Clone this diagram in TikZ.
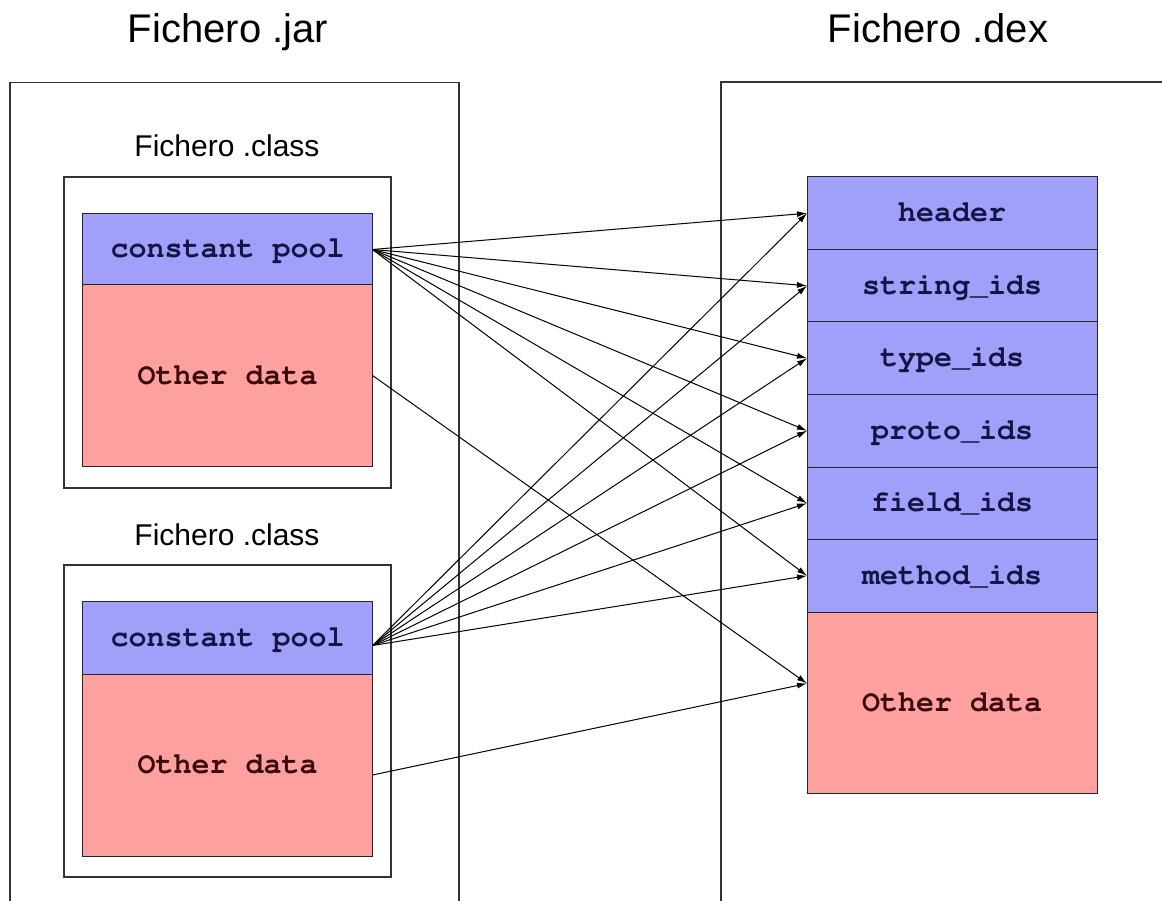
\documentclass[tikz,border=0pt]{standalone}
\usepackage{fontspec}
\setmainfont{Liberation Sans}
\newcommand{\courb}{\fontencoding{T1}\fontfamily{pcr}\fontseries{b}\selectfont}
\usetikzlibrary{arrows.meta}
\definecolor{poolblue}{RGB}{160,160,250}
\definecolor{datared}{RGB}{255,160,160}
\definecolor{navy}{RGB}{20,20,70}
\definecolor{darkred}{RGB}{60,10,10}
\begin{document}
\begin{tikzpicture}[x=1pt,y=-1pt,
  frame/.style={draw=black!80, line width=1.3pt, inner sep=0pt, outer sep=0pt},
  cell/.style={draw=black!85, line width=1pt, inner sep=0pt, outer sep=0pt, minimum width=290pt, anchor=north west, font=\courb\fontsize{30}{30}\selectfont, text height=17pt, text depth=0pt},
  bluecell/.style={cell, fill=poolblue, text=navy},
  redcell/.style={cell, fill=datared, text=darkred},
  title/.style={font=\fontsize{40}{40}\selectfont, anchor=base, inner sep=0pt},
  sub/.style={font=\fontsize{30}{30}\selectfont, anchor=base, inner sep=0pt},
  link/.style={line width=1pt, -{Latex[length=10pt,width=6pt]}}
]
\useasboundingbox (0,0) rectangle (1162,901);
\fill[white] (0,0) rectangle (1162,901);
\clip (0,0) rectangle (1162,901);

% titles
\node[title] (jart) at (228,43) {Fichero .jar};
\node[title] (dext) at (938,43) {Fichero .dex};

% outer frames
\node[frame, minimum width=449pt, minimum height=840pt, anchor=north west] (jar) at (10,82.5) {};
\node[frame, line width=2pt, minimum width=460pt, minimum height=840pt, anchor=north west] (dex) at (721,82.5) {};

% class file 1
\node[sub] (cls1lab) at (227,157) {Fichero .class};
\node[frame, minimum width=327pt, minimum height=311pt, anchor=north west] (cls1) at (64,177) {};
\node[bluecell, minimum height=71pt] (cp1) at (82.5,214) {constant pool};
\node[redcell, minimum height=181pt] (od1) at (82.5,285) {Other data};

% class file 2
\node[sub] (cls2lab) at (227,545) {Fichero .class};
\node[frame, minimum width=327pt, minimum height=312pt, anchor=north west] (cls2) at (64,565) {};
\node[bluecell, minimum height=73pt] (cp2) at (82.5,601) {constant pool};
\node[redcell, minimum height=182pt] (od2) at (82.5,674) {Other data};

% dex stack
\node[bluecell, minimum height=72.5pt] (hdr) at (807,177) {header};
\node[bluecell, minimum height=72.5pt] (str) at (807,249.5) {string\_ids};
\node[bluecell, minimum height=72.5pt] (typ) at (807,322) {type\_ids};
\node[bluecell, minimum height=72.5pt] (pro) at (807,394.5) {proto\_ids};
\node[bluecell, minimum height=72.5pt] (fld) at (807,467) {field\_ids};
\node[bluecell, minimum height=72.5pt] (met) at (807,539.5) {method\_ids};
\node[redcell, minimum height=181pt] (dod) at (807,612) {Other data};

% connectors
\coordinate (s2) at ([yshift=-8pt]cp2.east);
\coordinate (s3) at ([yshift=-10pt]od2.east);
\coordinate (t3) at ([yshift=19pt]dod.west);
\foreach \r in {hdr,str,typ,pro,fld,met} {
  \draw[link] (cp1.east) -- (\r.west);
  \draw[link] (s2) -- (\r.west);
}
\draw[link] (od1.east) -- (t3);
\draw[link] (s3) -- (t3);
\end{tikzpicture}
\end{document}
